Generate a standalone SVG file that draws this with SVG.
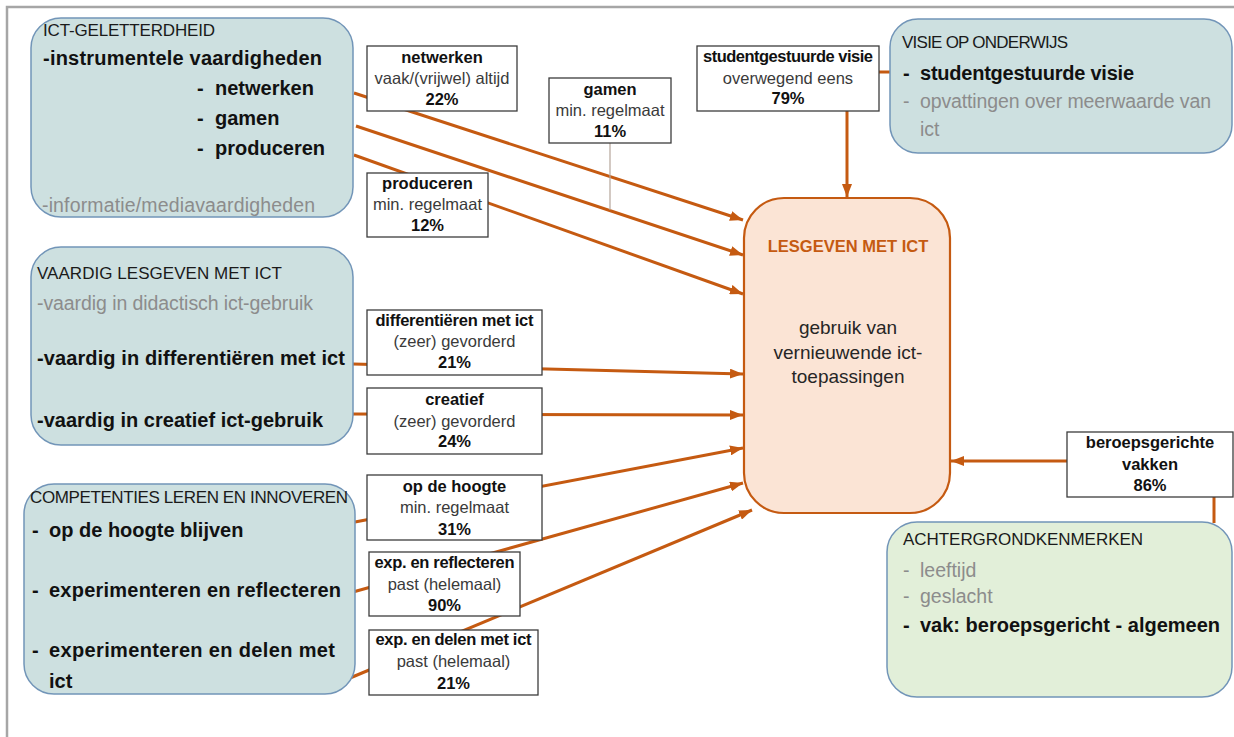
<svg xmlns="http://www.w3.org/2000/svg" width="1234" height="737" viewBox="0 0 1234 737">
<defs>
<style>
text{font-family:"Liberation Sans",Arial,sans-serif;}
.grp{fill:#cde0e0;stroke:#7295b8;stroke-width:1.5;}
.grn{fill:#e2efd9;stroke:#7295b8;stroke-width:1.5;}
.hd{font-size:17px;fill:#1a1a1a;}
.bi{font-size:20px;font-weight:bold;fill:#111;}
.gr{font-size:19.5px;fill:#8c8c8c;}
.lbl{fill:#fff;stroke:#3c3c3c;stroke-width:1.3;}
.lt{font-size:16.5px;text-anchor:middle;fill:#111;}
.lb{font-weight:bold;}
.lr{fill:#3a3a3a;}
.con{stroke:#c55a11;stroke-width:3;fill:none;}
.thin{stroke:#b5a59a;stroke-width:1.2;fill:none;}
</style>
<marker id="ah" markerUnits="userSpaceOnUse" markerWidth="13" markerHeight="10" refX="13" refY="5" orient="auto">
<path d="M0,0 L13,5 L0,10 z" fill="#c55a11"/>
</marker>
</defs>
<rect width="1234" height="737" fill="#fff"/>
<path d="M7,737 V7 H1234" fill="none" stroke="#a6a6a6" stroke-width="2.5"/>

<g id="connectors">
<line class="con" x1="354" y1="93" x2="743" y2="220" marker-end="url(#ah)"/>
<line class="con" x1="356" y1="126" x2="743" y2="255" marker-end="url(#ah)"/>
<line class="con" x1="354" y1="155" x2="743" y2="294" marker-end="url(#ah)"/>
<line class="con" x1="353" y1="364" x2="743" y2="374" marker-end="url(#ah)"/>
<line class="con" x1="353" y1="414" x2="743" y2="415" marker-end="url(#ah)"/>
<line class="con" x1="355" y1="522" x2="743" y2="448" marker-end="url(#ah)"/>
<line class="con" x1="353" y1="592" x2="743" y2="483" marker-end="url(#ah)"/>
<line class="con" x1="350" y1="678" x2="752" y2="510" marker-end="url(#ah)"/>
<line class="con" x1="847" y1="111" x2="847" y2="197" marker-end="url(#ah)"/>
<line class="con" x1="879" y1="72" x2="890" y2="72"/>
<line class="con" x1="1067" y1="461" x2="951" y2="461" marker-end="url(#ah)"/>
<line class="con" x1="1214" y1="497" x2="1214" y2="523"/>
<line class="thin" x1="610" y1="143" x2="610" y2="210"/>
</g>

<g id="ict-geletterdheid">
<rect class="grp" x="31" y="18" width="322" height="199" rx="30"/>
<text class="hd" x="43" y="36" textLength="172">ICT-GELETTERDHEID</text>
<text class="bi" x="43" y="65" textLength="279">-instrumentele vaardigheden</text>
<text class="bi" x="197" y="95">-</text><text class="bi" x="215" y="95">netwerken</text>
<text class="bi" x="197" y="125">-</text><text class="bi" x="215" y="125">gamen</text>
<text class="bi" x="197" y="155">-</text><text class="bi" x="215" y="155">produceren</text>
<text class="gr" x="42" y="212" textLength="273">-informatie/mediavaardigheden</text>
</g>

<g id="vaardig-lesgeven">
<rect class="grp" x="31" y="247" width="322" height="198" rx="30"/>
<text class="hd" x="37" y="279" textLength="245">VAARDIG LESGEVEN MET ICT</text>
<text class="gr" x="37" y="310" textLength="276">-vaardig in didactisch ict-gebruik</text>
<text class="bi" x="37" y="365" textLength="308">-vaardig in differentiëren met ict</text>
<text class="bi" x="37" y="427" textLength="286">-vaardig in creatief ict-gebruik</text>
</g>

<g id="competenties">
<rect class="grp" x="24" y="484" width="331" height="210" rx="30"/>
<text class="hd" x="30" y="503" textLength="318">COMPETENTIES LEREN EN INNOVEREN</text>
<text class="bi" x="32" y="537">-</text><text class="bi" x="49" y="537">op de hoogte blijven</text>
<text class="bi" x="32" y="597">-</text><text class="bi" x="49" y="597" textLength="292">experimenteren en reflecteren</text>
<text class="bi" x="32" y="657">-</text><text class="bi" x="49" y="657" textLength="286">experimenteren en delen met</text>
<text class="bi" x="49" y="688">ict</text>
</g>

<g id="visie-op-onderwijs">
<rect class="grp" x="890" y="19" width="342" height="134" rx="28"/>
<text class="hd" x="902" y="48" textLength="166">VISIE OP ONDERWIJS</text>
<text class="bi" x="903" y="80">-</text><text class="bi" x="920" y="80" textLength="214">studentgestuurde visie</text>
<text class="gr" x="903" y="108">-</text><text class="gr" x="920" y="108" textLength="291">opvattingen over meerwaarde van</text>
<text class="gr" x="920" y="136">ict</text>
</g>

<g id="lesgeven-met-ict">
<rect x="744" y="198" width="206" height="315" rx="40" fill="#fbe4d5" stroke="#c55a11" stroke-width="2.2"/>
<text x="848" y="252" text-anchor="middle" font-size="16.5" font-weight="bold" fill="#c55a11">LESGEVEN MET ICT</text>
<text x="848" y="334" text-anchor="middle" font-size="19" fill="#262626">gebruik van</text>
<text x="848" y="359" text-anchor="middle" font-size="19" fill="#262626">vernieuwende ict-</text>
<text x="848" y="383" text-anchor="middle" font-size="19" fill="#262626">toepassingen</text>
</g>

<g id="achtergrondkenmerken">
<rect class="grn" x="887" y="522" width="345" height="175" rx="30"/>
<text class="hd" x="903" y="545" textLength="240">ACHTERGRONDKENMERKEN</text>
<text class="gr" x="903" y="577">-</text><text class="gr" x="920" y="577">leeftijd</text>
<text class="gr" x="903" y="603">-</text><text class="gr" x="920" y="603">geslacht</text>
<text class="bi" x="903" y="632">-</text><text class="bi" x="920" y="632" textLength="300">vak: beroepsgericht - algemeen</text>
</g>

<g id="lbl-netwerken">
<rect class="lbl" x="367" y="46" width="150" height="65"/>
<text class="lt lb" x="442" y="63">netwerken</text>
<text class="lt lr" x="442" y="84">vaak/(vrijwel) altijd</text>
<text class="lt lb" x="442" y="105">22%</text>
</g>
<g id="lbl-gamen">
<rect class="lbl" x="549" y="78" width="122" height="65"/>
<text class="lt lb" x="610" y="95">gamen</text>
<text class="lt lr" x="610" y="116">min. regelmaat</text>
<text class="lt lb" x="610" y="137">11%</text>
</g>
<g id="lbl-produceren">
<rect class="lbl" x="367" y="173" width="121" height="64"/>
<text class="lt lb" x="427.5" y="189">produceren</text>
<text class="lt lr" x="427.5" y="210">min. regelmaat</text>
<text class="lt lb" x="427.5" y="231">12%</text>
</g>
<g id="lbl-studentgestuurde">
<rect class="lbl" x="697" y="46" width="182" height="65"/>
<text class="lt lb" x="788" y="62" textLength="170">studentgestuurde visie</text>
<text class="lt lr" x="788" y="84">overwegend eens</text>
<text class="lt lb" x="788" y="104">79%</text>
</g>
<g id="lbl-differentieren">
<rect class="lbl" x="367" y="310" width="175" height="65"/>
<text class="lt lb" x="454.5" y="326" textLength="158">differentiëren met ict</text>
<text class="lt lr" x="454.5" y="347">(zeer) gevorderd</text>
<text class="lt lb" x="454.5" y="368">21%</text>
</g>
<g id="lbl-creatief">
<rect class="lbl" x="367" y="388" width="175" height="66"/>
<text class="lt lb" x="454.5" y="405">creatief</text>
<text class="lt lr" x="454.5" y="427">(zeer) gevorderd</text>
<text class="lt lb" x="454.5" y="447">24%</text>
</g>
<g id="lbl-opdehoogte">
<rect class="lbl" x="367" y="475" width="175" height="65"/>
<text class="lt lb" x="454.5" y="492">op de hoogte</text>
<text class="lt lr" x="454.5" y="513">min. regelmaat</text>
<text class="lt lb" x="454.5" y="535">31%</text>
</g>
<g id="lbl-reflecteren">
<rect class="lbl" x="369" y="552" width="151" height="64"/>
<text class="lt lb" x="444.5" y="568" textLength="140">exp. en reflecteren</text>
<text class="lt lr" x="444.5" y="590">past (helemaal)</text>
<text class="lt lb" x="444.5" y="611">90%</text>
</g>
<g id="lbl-delen">
<rect class="lbl" x="369" y="630" width="169" height="65"/>
<text class="lt lb" x="453.5" y="645" textLength="156">exp. en delen met ict</text>
<text class="lt lr" x="453.5" y="667">past (helemaal)</text>
<text class="lt lb" x="453.5" y="689">21%</text>
</g>
<g id="lbl-beroepsgericht">
<rect class="lbl" x="1067" y="432" width="166" height="65"/>
<text class="lt lb" x="1150" y="448">beroepsgerichte</text>
<text class="lt lb" x="1150" y="470">vakken</text>
<text class="lt lb" x="1150" y="491">86%</text>
</g>
</svg>
